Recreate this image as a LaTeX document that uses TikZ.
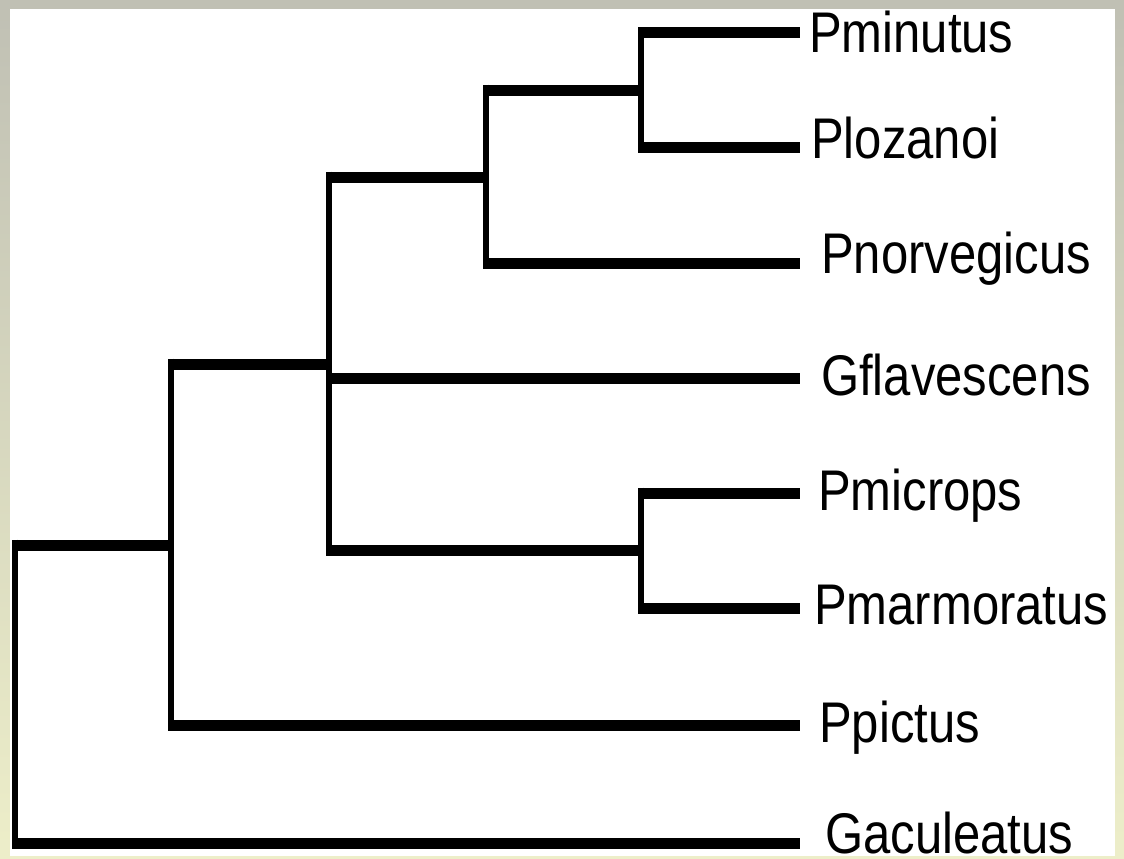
\documentclass[tikz,border=0pt]{standalone}
\usepackage{graphicx}
\usepackage{fontspec}
\setmainfont{Liberation Sans}
\definecolor{frametop}{RGB}{192,192,180}
\definecolor{framebot}{RGB}{237,238,201}
\begin{document}
\begin{tikzpicture}[x=1pt,y=-1pt,
    taxon/.style={anchor=west,inner sep=0pt,text height=41pt,text depth=0pt,
      font=\fontsize{49}{58}\selectfont},
    hline/.style={line width=11pt,shorten <=-3pt},
    vline/.style={line width=6pt,shorten <=-5.5pt,shorten >=-5.5pt}]
  \useasboundingbox (0,0) rectangle (1124,859);
  \shade[top color=frametop,bottom color=framebot] (0,0) rectangle (1124,859);
  \fill[white] (10,9) rectangle (1115,856);
  \coordinate (tmin) at (800,33);
  \coordinate (tloz) at (800,147);
  \coordinate (tnor) at (800,263);
  \coordinate (tfla) at (800,378);
  \coordinate (tmic) at (800,493);
  \coordinate (tmar) at (800,608);
  \coordinate (tpic) at (800,725);
  \coordinate (tacu) at (800,843);
  \node[taxon] (pmin) at (809,32) {\scalebox{1}[1.17]{Pminutus}};
  \node[taxon] (ploz) at (811,138) {\scalebox{1}[1.17]{Plozanoi}};
  \node[taxon] (pnor) at (821,253) {\scalebox{1}[1.17]{Pnorvegicus}};
  \node[taxon] (gfla) at (821,375) {\scalebox{1}[1.17]{Gflavescens}};
  \node[taxon] (pmic) at (818,490) {\scalebox{1}[1.17]{Pmicrops}};
  \node[taxon] (pmar) at (814,604) {\scalebox{1}[1.17]{Pmarmoratus}};
  \node[taxon] (ppic) at (819,722) {\scalebox{1}[1.17]{Ppictus}};
  \node[taxon] (gacu) at (825,833) {\scalebox{1}[1.17]{Gaculeatus}};
  \coordinate (n1) at (641,90);
  \coordinate (n2) at (486,177);
  \coordinate (n3) at (641,550);
  \coordinate (n4) at (329,364);
  \coordinate (n5) at (171,545);
  \coordinate (root) at (15,545);
  \draw[vline] (n1 |- tmin) -- (n1 |- tloz);
  \draw[hline] (n1 |- tmin) -- (tmin);
  \draw[hline] (n1 |- tloz) -- (tloz);
  \draw[vline] (n2 |- n1) -- (n2 |- tnor);
  \draw[hline] (n2 |- n1) -- (n1);
  \draw[hline] (n2 |- tnor) -- (tnor);
  \draw[vline] (n3 |- tmic) -- (n3 |- tmar);
  \draw[hline] (n3 |- tmic) -- (tmic);
  \draw[hline] (n3 |- tmar) -- (tmar);
  \draw[vline] (n4 |- n2) -- (n4 |- n3);
  \draw[hline] (n4 |- n2) -- (n2);
  \draw[hline] (n4 |- tfla) -- (tfla);
  \draw[hline] (n4 |- n3) -- (n3);
  \draw[vline] (n5 |- n4) -- (n5 |- tpic);
  \draw[hline] (n5 |- n4) -- (n4);
  \draw[hline] (n5 |- tpic) -- (tpic);
  \draw[vline] (root) -- (root |- tacu);
  \draw[hline] (root) -- (n5);
  \draw[hline] (root |- tacu) -- (tacu);
\end{tikzpicture}
\end{document}
